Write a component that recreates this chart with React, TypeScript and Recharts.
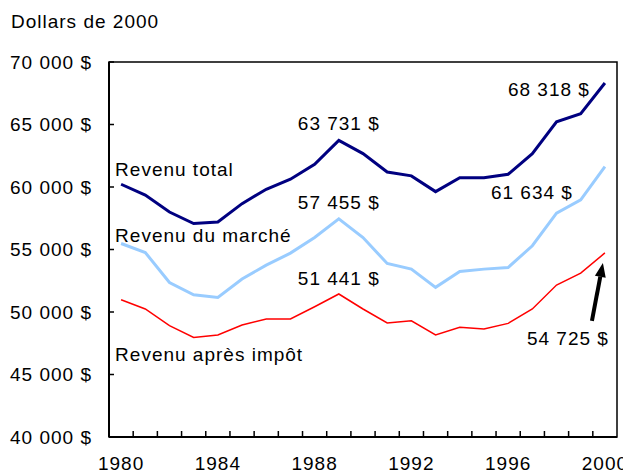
import React from 'react'
import {
  LineChart,
  Line,
  XAxis,
  YAxis,
  LabelList,
  ReferenceArea,
} from 'recharts'

const years = [
  1980, 1981, 1982, 1983, 1984, 1985, 1986, 1987, 1988, 1989, 1990,
  1991, 1992, 1993, 1994, 1995, 1996, 1997, 1998, 1999, 2000,
]
const revenuTotal = [
  60220, 59350, 58000, 57080, 57200, 58670, 59820, 60620, 61820, 63731, 62670,
  61200, 60890, 59630, 60750, 60750, 61020, 62670, 65220, 65860, 68318,
]
const revenuMarche = [
  55480, 54760, 52360, 51380, 51170, 52640, 53750, 54710, 55960, 57455, 55960,
  53880, 53430, 51970, 53240, 53430, 53560, 55300, 57910, 58970, 61634,
]
const revenuApresImpot = [
  50980, 50240, 48910, 47970, 48160, 48960, 49440, 49440, 50420, 51441, 50240,
  49120, 49300, 48160, 48770, 48640, 49090, 50240, 52160, 53110, 54725,
]
const labelYears = [1980, 1984, 1988, 1992, 1996, 2000]
const yTicks = [40000, 45000, 50000, 55000, 60000, 65000, 70000]

const data = years.map((year, i) => ({
  year,
  total: revenuTotal[i],
  marche: revenuMarche[i],
  apres: revenuApresImpot[i],
}))

// tick marks sit between years, labels on every 4th year
const xTicks = [...labelYears, ...years.slice(0, -1).map((y) => y + 0.5)].sort(
  (a, b) => a - b
)

const FONT = '"Liberation Sans", Arial, sans-serif'
const FS = 19
const LS = 1

const fmt = (v: number) =>
  String(v).replace(/\B(?=(\d{3})+(?!\d))/g, ' ') + ' $'

type Note = {
  index: number
  text?: string
  dx: number
  dy: number
  anchor: 'start' | 'middle' | 'end'
  arrow?: boolean
}

const makeLabels = (notes: Note[]) => (props: any) => {
  const { x, y, value, index } = props
  const note = notes.find((n) => n.index === index)
  if (!note) return null
  const text = note.text ?? fmt(Number(value))
  let arrow = null
  if (note.arrow) {
    const tx = x - 2
    const ty = y + 10
    const sx = x - 13
    const sy = y + 68
    const len = Math.hypot(tx - sx, ty - sy)
    const ux = (tx - sx) / len
    const uy = (ty - sy) / len
    const hx = tx - ux * 14
    const hy = ty - uy * 14
    arrow = (
      <g>
        <line x1={sx} y1={sy} x2={hx} y2={hy} stroke="#000" strokeWidth={4} />
        <polygon
          points={`${tx},${ty} ${hx - uy * 5.5},${hy + ux * 5.5} ${hx + uy * 5.5},${hy - ux * 5.5}`}
          fill="#000"
        />
      </g>
    )
  }
  return (
    <g>
      <text
        x={x + note.dx}
        y={y + note.dy + FS * 0.36}
        textAnchor={note.anchor}
        fontFamily={FONT}
        fontSize={FS}
        letterSpacing={LS}
        fill="#000"
      >
        {text}
      </text>
      {arrow}
    </g>
  )
}

const XTick = (props: any) => {
  const { x, y, payload } = props
  const v = payload.value
  if (labelYears.includes(v)) {
    return (
      <text
        x={x}
        y={y + 33}
        textAnchor="middle"
        fontFamily={FONT}
        fontSize={FS}
        letterSpacing={LS}
        fill="#000"
      >
        {v}
      </text>
    )
  }
  return <line x1={x} y1={y} x2={x} y2={y - 6} stroke="#000" strokeWidth={1.5} />
}

const YTick = (props: any) => {
  const { x, y, payload } = props
  return (
    <g>
      <line x1={x} y1={y} x2={x + 5} y2={y} stroke="#000" strokeWidth={1.5} />
      <text
        x={x - 17}
        y={y + FS * 0.36}
        textAnchor="end"
        fontFamily={FONT}
        fontSize={FS}
        letterSpacing={LS}
        fill="#000"
      >
        {fmt(payload.value)}
      </text>
    </g>
  )
}

export default function App() {
  return (
    <div style={{ position: 'relative', width: 623, height: 467 }}>
      <div
        style={{
          position: 'absolute',
          left: 3,
          top: 4,
          fontFamily: FONT,
          fontSize: FS,
          letterSpacing: LS,
          lineHeight: `${FS}px`,
          whiteSpace: 'nowrap',
        }}
      >
        Dollars de 2000
      </div>
      <LineChart
        width={623}
        height={467}
        data={data}
        margin={{ top: 54, right: 14, left: 0, bottom: 0 }}
      >
        <XAxis
          dataKey="year"
          type="number"
          domain={[1979.5, 2000.5]}
          ticks={xTicks}
          interval={0}
          tickSize={0}
          tickMargin={0}
          tickLine={false}
          tick={<XTick />}
          height={38}
          axisLine={{ stroke: '#000', strokeWidth: 2 }}
        />
        <YAxis
          type="number"
          domain={[40000, 70000]}
          ticks={yTicks}
          interval={0}
          tickSize={0}
          tickMargin={0}
          tickLine={false}
          tick={<YTick />}
          width={101}
          axisLine={{ stroke: '#000', strokeWidth: 2 }}
        />
        <ReferenceArea
          x1={1979.5}
          x2={2000.5}
          y1={40000}
          y2={70000}
          fill="none"
          fillOpacity={0}
          stroke="#000"
          strokeWidth={1.5}
        />
        <Line
          dataKey="total"
          stroke="#000080"
          strokeWidth={3}
          dot={false}
          isAnimationActive={false}
        >
          <LabelList
            dataKey="total"
            content={makeLabels([
              { index: 0, text: 'Revenu total', dx: -6, dy: -15, anchor: 'start' },
              { index: 9, dx: 0, dy: -17, anchor: 'middle' },
              { index: 20, dx: -56, dy: 6, anchor: 'middle' },
            ])}
          />
        </Line>
        <Line
          dataKey="marche"
          stroke="#99CCFF"
          strokeWidth={3}
          dot={false}
          isAnimationActive={false}
        >
          <LabelList
            dataKey="marche"
            content={makeLabels([
              { index: 0, text: 'Revenu du marché', dx: -6, dy: -8, anchor: 'start' },
              { index: 9, dx: 0, dy: -17, anchor: 'middle' },
              { index: 20, dx: -73, dy: 26, anchor: 'middle' },
            ])}
          />
        </Line>
        <Line
          dataKey="apres"
          stroke="#FF0000"
          strokeWidth={1.5}
          dot={false}
          isAnimationActive={false}
        >
          <LabelList
            dataKey="apres"
            content={makeLabels([
              { index: 0, text: 'Revenu après impôt', dx: -6, dy: 54, anchor: 'start' },
              { index: 9, dx: 0, dy: -16, anchor: 'middle' },
              { index: 20, dx: -37, dy: 85, anchor: 'middle', arrow: true },
            ])}
          />
        </Line>
      </LineChart>
    </div>
  )
}
